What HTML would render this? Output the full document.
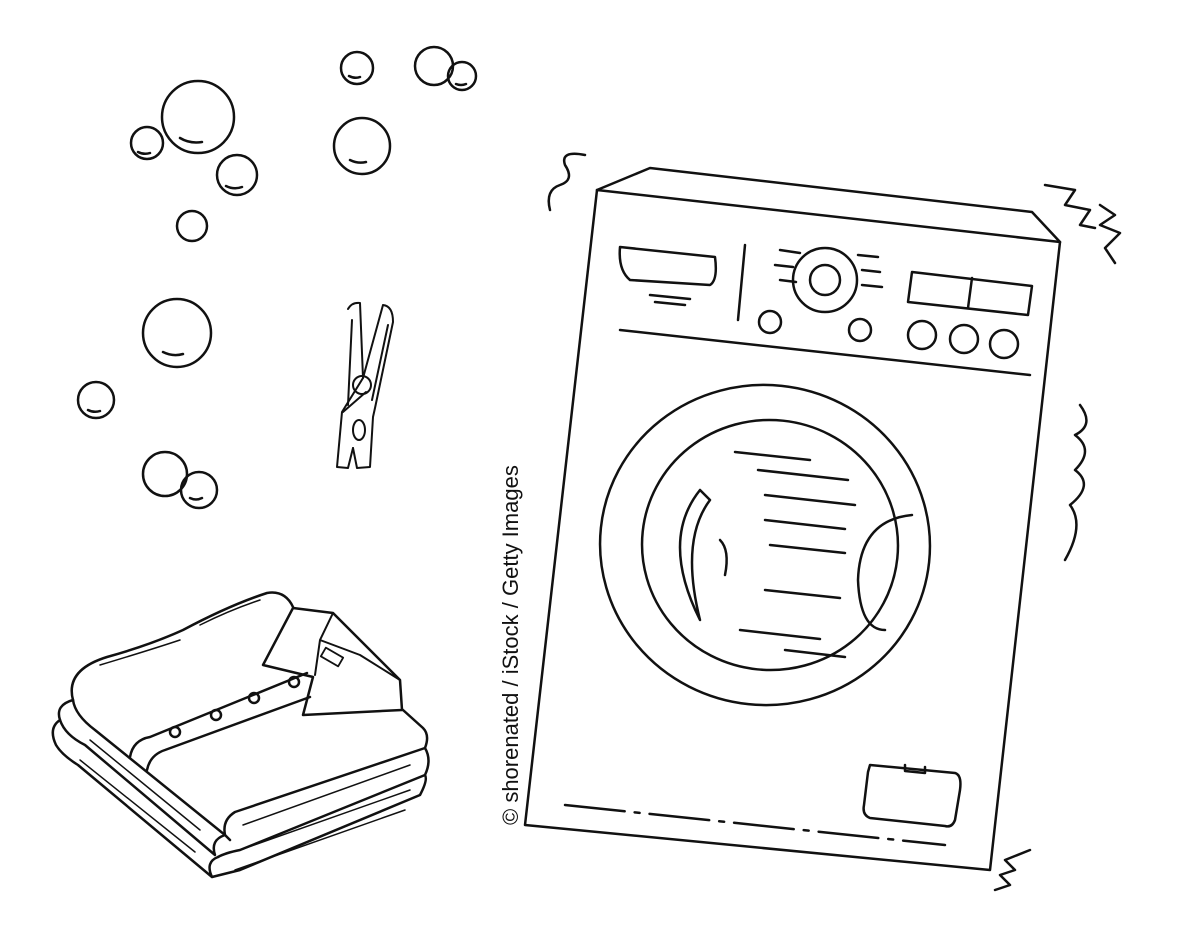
<!DOCTYPE html>
<html><head><meta charset="utf-8"><style>
html,body{margin:0;padding:0;background:#fff;width:1198px;height:948px;overflow:hidden}
svg{display:block}
</style></head><body>
<svg width="1198" height="948" viewBox="0 0 1198 948" xmlns="http://www.w3.org/2000/svg" fill="none" stroke="#111" stroke-width="2.5" stroke-linecap="round" stroke-linejoin="round">
<!-- bubbles -->
<g>
<circle cx="198" cy="117" r="36"/><path d="M180 138 q10 6 22 4"/>
<circle cx="147" cy="143" r="16"/><path d="M138 152 q6 3 12 1"/>
<circle cx="237" cy="175" r="20"/><path d="M226 186 q8 4 16 1"/>
<circle cx="357" cy="68" r="16"/><path d="M349 76 q6 3 11 1"/>
<circle cx="434" cy="66" r="19"/><circle cx="462" cy="76" r="14"/><path d="M456 84 q5 2 10 0"/>
<circle cx="362" cy="146" r="28"/><path d="M350 160 q8 4 16 2"/>
<circle cx="192" cy="226" r="15"/>
<circle cx="177" cy="333" r="34"/><path d="M163 352 q10 5 20 2"/>
<circle cx="96" cy="400" r="18"/><path d="M88 410 q6 3 12 1"/>
<circle cx="165" cy="474" r="22"/><circle cx="199" cy="490" r="18"/><path d="M190 498 q6 3 12 0"/>
</g>
<!-- clothespin -->
<g stroke-width="2">
<path d="M348 309 Q352 302 360 303 L363 378 L342 412 L337 467 L348 468 L353 448"/>
<path d="M363 378 L383 305 Q393 306 393 322 L375 408 L373 417 L370 467 L357 468 L353 448"/>
<circle cx="362" cy="385" r="9"/>
<path d="M366 392 L343 412"/>
<ellipse cx="359" cy="430" rx="6" ry="10"/>
<path d="M352 320 L348 405 M388 325 L372 400"/>
</g>
<!-- clothes pile -->
<g>
<!-- top shirt back -->
<path d="M73 700 Q65 670 107 657 Q150 645 183 630 Q230 605 267 593 Q285 590 293 607"/>
<path d="M100 665 Q150 650 180 640 M200 625 Q230 610 260 600" stroke-width="1.5"/>
<!-- collar -->
<path d="M293 608 L333 613 L400 680 L402 710 L303 715 L313 677 L263 665 L293 608"/>
<path d="M333 613 L320 640 L315 675 M320 640 L360 655 L400 680" stroke-width="2"/>
<rect x="322" y="652" width="20" height="10" transform="rotate(30 332 657)" stroke-width="1.8"/>
<!-- placket -->
<path d="M130 757 Q133 740 150 737 L307 673"/>
<path d="M147 770 Q150 755 165 750 L310 697"/>
<circle cx="175" cy="732" r="5"/><circle cx="216" cy="715" r="5"/><circle cx="254" cy="698" r="5"/><circle cx="294" cy="682" r="5"/>
<!-- top layer front -->
<path d="M73 700 Q75 715 95 730 L225 835 Q222 820 235 812 Q300 790 425 748 Q430 735 423 728 L403 710"/>
<!-- layer 2 -->
<path d="M73 700 Q55 705 60 720 Q65 735 85 745 L215 855 Q210 840 225 835 M225 835 L230 840 M218 857 Q225 853 240 850 L425 775 Q432 760 425 748"/>
<!-- layer 3 -->
<path d="M60 720 Q48 728 56 745 Q62 755 78 765 L212 877 Q205 862 218 857 M212 877 Q220 875 240 870 L420 795 Q428 780 425 775"/>
<path d="M243 825 L410 765 M240 850 L410 790 M235 870 L405 810 M90 740 L200 830 M80 760 L195 852" stroke-width="1.5"/>
</g>
<!-- washing machine -->
<g>
<path d="M597 190 L1060 242 L990 870 L525 825 Z"/>
<path d="M597 190 L650 168 L1032 212 L1060 242"/>
<path d="M620 330 L1030 375"/>
<path d="M565 805 L945 845" stroke-dasharray="60 10 5 10"/>
<path d="M620 247 L715 257 Q718 280 710 285 L630 280 Q618 270 620 247 Z"/>
<path d="M650 295 L690 299 M655 302 L685 305"/>
<path d="M745 245 L738 320"/>
<circle cx="825" cy="280" r="32"/><circle cx="825" cy="280" r="15"/>
<path d="M780 250 l20 3 M775 265 l18 2 M858 255 l20 2 M862 270 l18 2 M862 285 l20 2 M780 280 l16 2"/>
<circle cx="770" cy="322" r="11"/><circle cx="860" cy="330" r="11"/>
<path d="M912 272 L1032 286 L1028 315 L908 302 Z"/><path d="M972 278 L968 308"/>
<circle cx="922" cy="335" r="14"/><circle cx="964" cy="339" r="14"/><circle cx="1004" cy="344" r="14"/>
<ellipse cx="765" cy="545" rx="165" ry="160" transform="rotate(6 765 545)"/>
<ellipse cx="770" cy="545" rx="128" ry="125" transform="rotate(6 770 545)"/>
<path d="M912 515 Q860 520 858 580 Q860 630 885 630"/>
<path d="M700 490 Q660 540 700 620 Q680 540 710 500 Z"/>
<path d="M720 540 q10 10 5 35"/>
<path d="M735 452 l75 8 M758 470 l90 10 M765 495 l90 10 M765 520 l80 9 M770 545 l75 8 M765 590 l75 8 M740 630 l80 9 M785 650 l60 7"/>
<path d="M870 765 L955 773 Q962 775 960 790 L955 820 Q952 828 945 826 L870 818 Q862 815 864 805 L868 772 Z"/>
<path d="M905 765 l0 6 l20 2 l0 -6"/>
</g>
<!-- shake marks -->
<g>
<path d="M550 210 Q545 190 560 185 Q575 180 565 165 Q560 150 585 155"/>
<path d="M1045 185 l30 5 l-10 15 l25 5 l-10 15 l15 3"/>
<path d="M1100 205 l15 10 l-15 10 l20 8 l-15 15 l10 15"/>
<path d="M1080 405 q15 20 -5 30 q20 15 0 35 q20 15 -5 35 q15 20 -5 55"/>
<path d="M1030 850 l-25 10 l10 10 l-15 5 l10 10 l-15 5"/>
</g>
<text transform="translate(518 825) rotate(-90)" font-family="Liberation Sans, sans-serif" font-size="22" fill="#111" stroke="none">© shorenated / iStock / Getty Images</text>
</svg>
</body></html>
